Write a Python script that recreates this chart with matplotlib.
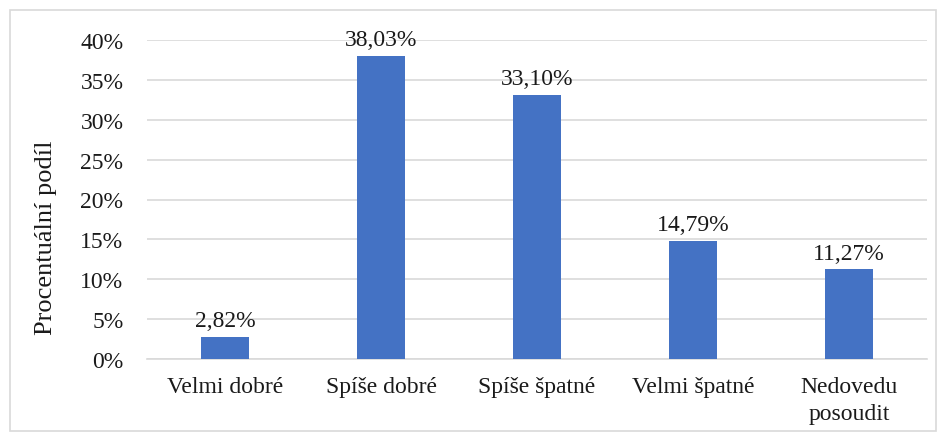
import matplotlib.pyplot as plt
from matplotlib.patches import Rectangle
from matplotlib.ticker import FuncFormatter, MultipleLocator

# data
categories = ["Velmi dobré", "Spíše dobré", "Spíše špatné", "Velmi špatné", "Nedovedu\nposoudit"]
values = [2.82, 38.03, 33.10, 14.79, 11.27]
labels = ["2,82%", "38,03%", "33,10%", "14,79%", "11,27%"]

plt.rcParams['font.family'] = ['Liberation Serif', 'DejaVu Serif']

fig = plt.figure(figsize=(9.47, 4.39), dpi=100)
ax = fig.add_axes([147 / 947, 1 - 360 / 439, 780 / 947, 319 / 439])

x = range(len(categories))
bars = ax.bar(x, values, width=0.31, color="#4472C4", zorder=3)
for b, lab in zip(bars, labels):
    ax.annotate(lab, (b.get_x() + b.get_width() / 2, b.get_height()),
                xytext=(0, 4), textcoords="offset points",
                ha="center", va="bottom", fontsize=17, color="#1a1a1a")

ax.set_xlim(-0.5, len(categories) - 0.5)
ax.set_ylim(0, 40)
ax.yaxis.set_major_locator(MultipleLocator(5))
ax.yaxis.set_major_formatter(FuncFormatter(lambda v, p: f"{v:.0f}%"))
ax.set_xticks(list(x))
ax.set_xticklabels(categories, fontsize=17, color="#1a1a1a", linespacing=1.4)
ax.tick_params(axis="y", labelsize=17, colors="#1a1a1a", length=0, pad=17)
ax.tick_params(axis="x", length=0, pad=12)
ax.grid(axis="y", color="#D9D9D9", linewidth=1.2, zorder=0)
for s in ["top", "right", "left"]:
    ax.spines[s].set_visible(False)
ax.spines["bottom"].set_color("#D9D9D9")
ax.spines["bottom"].set_linewidth(1.2)
ax.set_ylabel("Procentuální podíl", fontsize=19, color="#1a1a1a")
ax.yaxis.set_label_coords(-0.115, 0.382)

# outer chart border
fig.add_artist(Rectangle((10 / 947, 1 - 432 / 439), 926 / 947, 421 / 439,
                         transform=fig.transFigure, fill=False,
                         edgecolor="#D9D9D9", linewidth=1.2))

fig.savefig("out.png", dpi=100)
